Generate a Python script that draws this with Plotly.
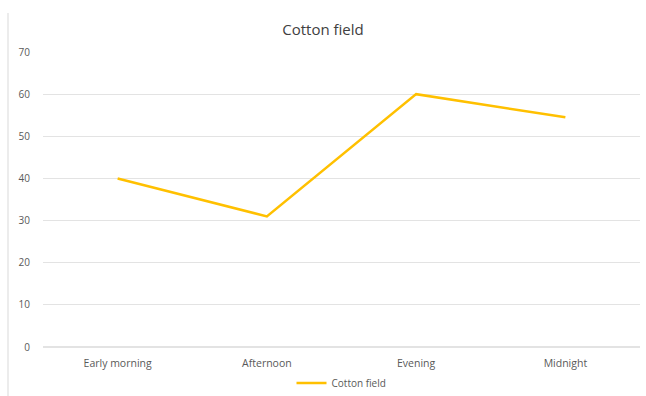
import plotly.graph_objects as go

categories = ["Early morning", "Afternoon", "Evening", "Midnight"]
cotton_field = [40, 31, 60, 54.5]
y_ticks = [0, 10, 20, 30, 40, 50, 60, 70]

W, H = 646, 396
L, R, T, B = 43, 6, 52, 49
pw = W - L - R
ph = H - T - B

fig = go.Figure()
fig.add_trace(go.Scatter(
    x=categories, y=cotton_field, mode="lines", name="Cotton field",
    line=dict(color="#FFC000", width=2.5),
))

fig.update_layout(
    width=W, height=H,
    margin=dict(l=L, r=R, t=T, b=B, autoexpand=False),
    paper_bgcolor="white", plot_bgcolor="white",
    font=dict(family="Open Sans, Liberation Sans, sans-serif", color="#595959", size=10),
    title=dict(text="Cotton field", x=0.5, xanchor="center", y=1 - 30 / H, yanchor="middle",
               font=dict(size=15, color="#404040")),
    xaxis=dict(type="category", range=[-0.5, 3.5], showgrid=False, showline=False,
               ticks="", ticklabelstandoff=8, tickfont=dict(size=10.5, color="#595959")),
    yaxis=dict(range=[0, 70], tickvals=y_ticks, showgrid=True, gridcolor="#E3E3E3",
               gridwidth=1, zeroline=True, zerolinecolor="#E3E3E3", showline=False,
               ticks="", ticklabelstandoff=12, tickfont=dict(size=10, color="#595959")),
    showlegend=True,
    legend=dict(orientation="h", x=0.5, xanchor="center", yref="container",
                y=1 - 383 / H, yanchor="middle", font=dict(size=10, color="#595959")),
    shapes=[dict(type="line", xref="paper", yref="paper",
                 x0=(8 - L) / pw, x1=(8 - L) / pw,
                 y0=-B / ph, y1=(H - T - 10) / ph,
                 line=dict(color="#D9D9D9", width=1))],
)

fig.write_html("out.html")
